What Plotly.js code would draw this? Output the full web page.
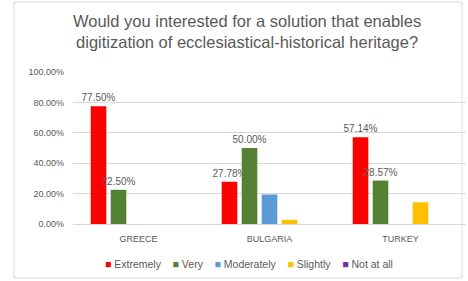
<!DOCTYPE html>
<html>
<head>
<meta charset="utf-8">
<script src="https://cdn.plot.ly/plotly-3.0.1.min.js"></script>
<style>html,body{margin:0;padding:0;background:#fff;}#chart{width:468px;height:281px;}</style>
</head>
<body>
<div id="chart"></div>
<script>
const categories = ["GREECE", "BULGARIA", "TURKEY"];
const seriesNames = ["Extremely", "Very", "Moderately", "Slightly", "Not at all"];
const extremely = [77.50, 27.78, 57.14];
const very = [22.50, 50.00, 28.57];
const moderately = [0, 19.44, 0];
const slightly = [0, 2.78, 14.29];
const notAtAll = [0, 0, 0];
const yTicks = [0, 20, 40, 60, 80, 100];
const colors = ["#FF0000", "#548235", "#5B9BD5", "#FFC000", "#7030A0"];
const allValues = [extremely, very, moderately, slightly, notAtAll];
const labelled = [true, true, false, false, false];

const font = "Liberation Sans, Arial, sans-serif";
const gray = "#595959";

const traces = allValues.map((vals, i) => ({
  type: "bar",
  name: seriesNames[i],
  x: categories,
  y: vals,
  marker: {color: colors[i]},
  text: labelled[i] ? vals.map(v => v.toFixed(2) + "%") : undefined,
  textposition: labelled[i] ? "outside" : "none",
  constraintext: "none",
  textfont: {family: font, size: 10, color: gray},
  cliponaxis: false,
  hoverinfo: "skip",
  showlegend: false
}));

const legendText = seriesNames.map((n, i) =>
  '<span style="color:' + colors[i] + '">■</span> ' + n
).join("    ");

const layout = {
  width: 468, height: 281,
  margin: {l: 73, r: 2, t: 72, b: 57, autoexpand: false},
  paper_bgcolor: "#ffffff",
  plot_bgcolor: "#ffffff",
  barmode: "group",
  bargap: 0.237,
  bargroupgap: 0.22,
  showlegend: false,
  title: {
    text: "Would you interested for a solution that enables<br>digitization of ecclesiastical-historical heritage?",
    font: {family: font, size: 16.5, color: gray},
    x: 0.528, xanchor: "center",
    y: 0.905, yanchor: "middle"
  },
  xaxis: {
    type: "category",
    showgrid: false,
    showline: true, linecolor: "#d9d9d9", linewidth: 1,
    ticks: "",
    ticklabelstandoff: 6,
    tickfont: {family: font, size: 9, color: gray},
    fixedrange: true
  },
  yaxis: {
    range: [0, 100],
    tickvals: yTicks,
    ticktext: yTicks.map(v => v.toFixed(2) + "%"),
    showgrid: true, gridcolor: "#d9d9d9", gridwidth: 1,
    zeroline: false,
    showline: false,
    ticks: "",
    ticklabelstandoff: 8,
    tickfont: {family: font, size: 9, color: gray},
    fixedrange: true
  },
  annotations: [{
    xref: "paper", yref: "paper",
    x: (249 - 73) / 393, y: (224 - 264) / 152,
    xanchor: "center", yanchor: "middle",
    showarrow: false,
    text: legendText,
    font: {family: font, size: 10.5, color: gray}
  }],
  shapes: [{
    type: "rect", xref: "paper", yref: "paper",
    x0: (14 - 73) / 393, x1: (462 - 73) / 393,
    y0: (224 - 278) / 152, y1: (224 - 2) / 152,
    line: {color: "#d9d9d9", width: 1},
    fillcolor: "rgba(0,0,0,0)",
    layer: "below"
  }]
};

Plotly.newPlot("chart", traces, layout, {displayModeBar: false, staticPlot: true});
</script>
</body>
</html>
